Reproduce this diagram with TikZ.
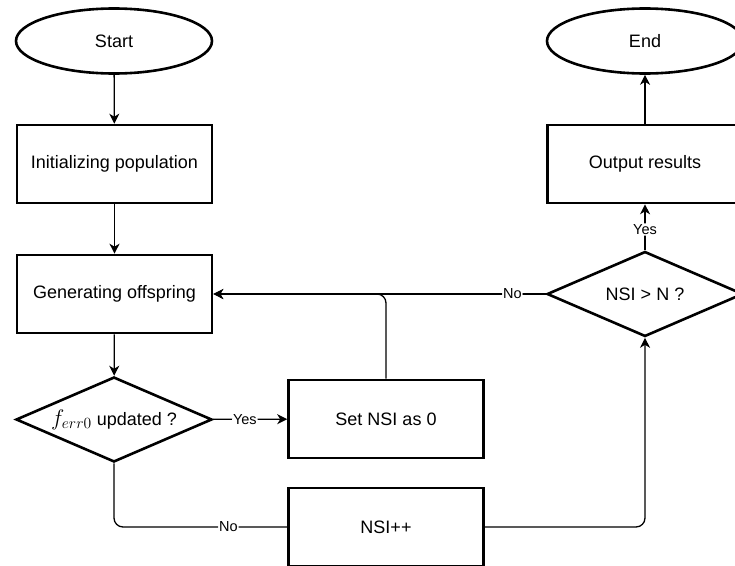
\documentclass[tikz,border=0pt]{standalone}
\usepackage{graphicx}
\usepackage{fontspec}
\setmainfont{Liberation Sans}
\usetikzlibrary{arrows.meta,shapes.geometric}
\newcommand{\ferrz}{\scalebox{1.3}{$f_{err0}$}}
\begin{document}
\begin{tikzpicture}[x=1pt,y=-1pt,
  box/.style={draw,line width=2.6pt,rectangle,minimum width=195pt,minimum height=78pt,inner sep=0pt,font=\fontsize{18}{20}\selectfont},
  term/.style={draw,line width=2.6pt,ellipse,minimum width=196pt,minimum height=65pt,inner sep=0pt,font=\fontsize{18}{20}\selectfont},
  dec/.style={draw,line width=2.6pt,diamond,aspect=2.3,minimum width=196pt,minimum height=85pt,inner sep=0pt,font=\fontsize{18}{20}\selectfont},
  conn/.style={line width=1.3pt,rounded corners=9pt},
  arr/.style={conn,-{Stealth[length=10pt,width=10pt,inset=3pt]}},
  lbl/.style={fill=white,inner sep=1pt,font=\fontsize{14.5}{16}\selectfont}]
\clip (0,0) rectangle (735,565);
\useasboundingbox (0,0) rectangle (735,565);
\fill[white] (0,0) rectangle (735,565);
\node[term] (start) at (114,41) {Start};
\node[box] (init) at (114.5,164) {Initializing population};
\node[box] (gen) at (114.5,294) {Generating offspring};
\node[dec] (dec1) at (114,419.5) {\makebox[0pt]{\ferrz{} updated ?}};
\node[box] (setnsi) at (386,419) {Set NSI as 0};
\node[box] (nsipp) at (386,527) {NSI++};
\node[dec] (dec2) at (645,294) {\makebox[0pt]{NSI > N ?}};
\node[box] (out) at (645,164) {Output results};
\node[term] (end) at (645,41) {End};
\draw[arr] (start) -- (init);
\draw[arr] (init) -- (gen);
\draw[arr] (gen) -- (dec1);
\draw[arr] (dec1) -- node[lbl,pos=0.43]{Yes} (setnsi);
\draw[conn] (dec1.south) |- node[lbl,pos=0.83]{No} (nsipp.west);
\draw[arr] (nsipp.east) -| (dec2.south);
\draw[arr] (setnsi.north) |- (gen.east);
\draw[arr] (dec2.west) -- node[lbl,pos=0.1]{No} (gen.east);
\draw[arr] (dec2) -- node[lbl,pos=0.45]{Yes} (out);
\draw[arr] (out) -- (end);
\end{tikzpicture}
\end{document}
